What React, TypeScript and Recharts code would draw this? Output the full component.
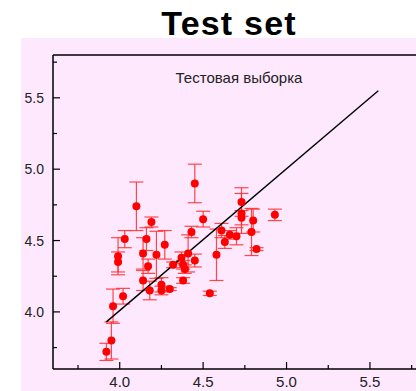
import { ScatterChart, Scatter, XAxis, YAxis, ErrorBar, ReferenceLine } from 'recharts';

// experimental vs predicted (test set)
const xValues = [
  3.92, 3.95, 3.96, 4.02, 3.99, 3.99, 4.03, 4.10, 4.19, 4.16,
  4.14, 4.22, 4.27, 4.17, 4.14, 4.18, 4.25, 4.25, 4.30, 4.32,
  4.37, 4.41, 4.38, 4.39, 4.38, 4.45, 4.45, 4.50, 4.43, 4.54,
  4.58, 4.61, 4.63, 4.66, 4.70, 4.73, 4.73, 4.73, 4.80, 4.79,
  4.82, 4.93,
];
const yValues = [
  3.72, 3.80, 4.04, 4.11, 4.39, 4.35, 4.51, 4.74, 4.63, 4.51,
  4.41, 4.40, 4.47, 4.32, 4.22, 4.15, 4.19, 4.15, 4.16, 4.33,
  4.38, 4.41, 4.33, 4.30, 4.22, 4.36, 4.90, 4.65, 4.56, 4.13,
  4.40, 4.57, 4.49, 4.54, 4.53, 4.77, 4.69, 4.66, 4.64, 4.56,
  4.44, 4.68,
];
const yErrors = [
  0.06, 0.13, 0.12, 0.055, 0.13, 0.07, 0.06, 0.17, 0.035, 0.08,
  0.11, 0.165, 0.10, 0.05, 0.07, 0.065, 0.05, 0.03, 0.01, 0.02,
  0.04, 0.13, 0.03, 0.03, 0.02, 0.045, 0.135, 0.055, 0.04, 0.015,
  0.18, 0.05, 0.045, 0.03, 0.06, 0.10, 0.14, 0.05, 0.08, 0.165,
  0.01, 0.04,
];

const fitLine = [
  { x: 3.92, y: 3.93 },
  { x: 5.55, y: 5.55 },
];

const axisDomain = [3.6, 5.8];
const majorTicks = [4.0, 4.5, 5.0, 5.5];
const allTicks = [3.75, 4.0, 4.25, 4.5, 4.75, 5.0, 5.25, 5.5, 5.75];

const points = xValues.map((x, i) => ({ x, y: yValues[i], err: yErrors[i] }));

const isMajor = (v: number) => majorTicks.some((m) => Math.abs(m - v) < 1e-6);

const XTick = ({ x, y, payload }: any) => {
  const major = isMajor(payload.value);
  return (
    <g>
      <line x1={x} y1={y} x2={x} y2={y - (major ? 7 : 4)} stroke="#000" strokeWidth={1.2} />
      {major && (
        <text x={x} y={y + 18} textAnchor="middle" fontSize={15} fill="#222" fontFamily="Liberation Sans, Arial, sans-serif">
          {payload.value.toFixed(1)}
        </text>
      )}
    </g>
  );
};

const YTick = ({ x, y, payload }: any) => {
  const major = isMajor(payload.value);
  return (
    <g>
      <line x1={x} y1={y} x2={x + (major ? 7 : 4)} y2={y} stroke="#000" strokeWidth={1.2} />
      {major && (
        <text x={x - 9} y={y} textAnchor="end" dominantBaseline="central" fontSize={14} fill="#222" fontFamily="Liberation Sans, Arial, sans-serif">
          {payload.value.toFixed(1)}
        </text>
      )}
    </g>
  );
};

const Dot = (props: any) => <circle cx={props.cx} cy={props.cy} r={4} fill="#ff0000" />;

export default function App() {
  return (
    <div style={{ position: 'absolute', left: 0, top: 0, width: 416, height: 391, overflow: 'hidden', background: '#fff' }}>
      <div style={{ position: 'absolute', left: 21, top: 38, right: 0, bottom: 0, background: '#fee8fe' }} />
      <div
        style={{
          position: 'absolute',
          left: 229,
          top: 6,
          transform: 'translateX(-50%)',
          fontFamily: 'Liberation Sans, Arial, sans-serif',
          fontWeight: 'bold',
          fontSize: 34,
          lineHeight: 1,
          letterSpacing: 1.2,
          whiteSpace: 'nowrap',
          color: '#000',
        }}
      >
        Test set
      </div>
      <div style={{ position: 'absolute', left: 0, top: 0 }}>
        <ScatterChart width={440} height={391} margin={{ top: 54, right: 19, bottom: 21, left: 52 }}>
          <XAxis
            type="number"
            dataKey="x"
            domain={axisDomain}
            ticks={allTicks}
            interval={0}
            allowDataOverflow
            height={1}
            tickSize={0}
            tickMargin={0}
            tickLine={false}
            tick={<XTick />}
            axisLine={{ stroke: '#000', strokeWidth: 1.5 }}
          />
          <XAxis xAxisId="top" orientation="top" type="number" domain={axisDomain} height={1} tick={false} tickLine={false} axisLine={{ stroke: '#000', strokeWidth: 1.5 }} />
          <YAxis
            type="number"
            dataKey="y"
            domain={axisDomain}
            ticks={allTicks}
            interval={0}
            allowDataOverflow
            width={1}
            tickSize={0}
            tickMargin={0}
            tickLine={false}
            tick={<YTick />}
            axisLine={{ stroke: '#000', strokeWidth: 1.5 }}
          />
          <YAxis yAxisId="right" orientation="right" type="number" domain={axisDomain} width={1} tick={false} tickLine={false} axisLine={{ stroke: '#000', strokeWidth: 1.5 }} />
          <Scatter data={points} shape={<Dot />} isAnimationActive={false}>
            <ErrorBar dataKey="err" direction="y" width={7} stroke="#ff2a2a" strokeWidth={1.2} strokeOpacity={0.85} />
          </Scatter>
          <ReferenceLine segment={fitLine} stroke="#000" strokeWidth={1.4} ifOverflow="visible" />
        </ScatterChart>
      </div>
      <div
        style={{
          position: 'absolute',
          left: 239,
          top: 77,
          transform: 'translate(-50%, -50%)',
          fontFamily: 'Liberation Sans, Arial, sans-serif',
          fontSize: 15,
          color: '#222',
          whiteSpace: 'nowrap',
        }}
      >
        Тестовая выборка
      </div>
    </div>
  );
}
